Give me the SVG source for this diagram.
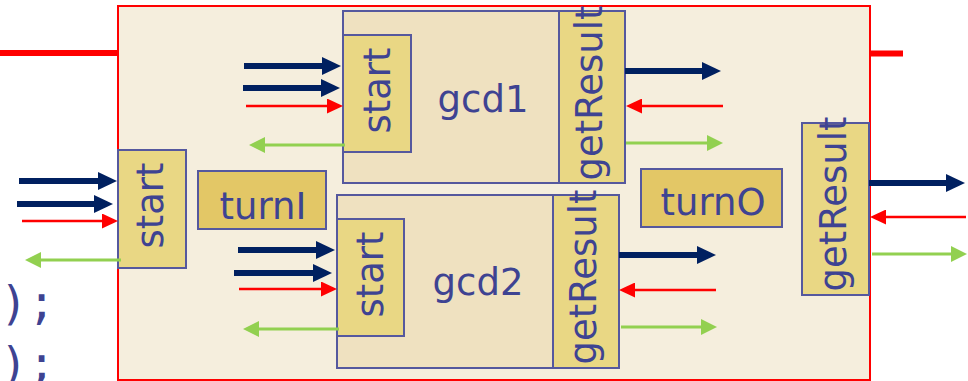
<svg xmlns="http://www.w3.org/2000/svg" width="968" height="381" viewBox="0 0 968 381">
  <style>
    .lbl { font-family: "DejaVu Sans", Verdana, sans-serif; font-size: 37px; fill: #3E4392; }
    .mid { text-anchor: middle; }
    .code { font-family: "DejaVu Sans Mono", monospace; font-size: 46px; fill: #3E4392; }
    .frame { fill: #F5EEDD; stroke: #FF0000; stroke-width: 2; }
    .module { fill: #EFE1C0; stroke: #55589E; stroke-width: 2; }
    .method { fill: #E9D784; stroke: #55589E; stroke-width: 2; }
    .rule { fill: #E3C766; stroke: #55589E; stroke-width: 2; }
    .bus { stroke: #FF0000; stroke-width: 6; fill: none; }
    .nv { stroke: #002060; stroke-width: 6; fill: none; marker-end: url(#hNavy); }
    .rd { stroke: #FF0000; stroke-width: 2.5; fill: none; marker-end: url(#hRed); }
    .gr { stroke: #92D050; stroke-width: 3; fill: none; marker-end: url(#hGreen); }
  </style>
  <defs>
    <marker id="hNavy" markerUnits="userSpaceOnUse" markerWidth="19" markerHeight="18" viewBox="0 0 19 18" refX="0" refY="9" orient="auto">
      <polygon points="0,0 19,9 0,18" fill="#002060"/>
    </marker>
    <marker id="hRed" markerUnits="userSpaceOnUse" markerWidth="16" markerHeight="15" viewBox="0 0 16 15" refX="0" refY="7.5" orient="auto">
      <polygon points="0,0 16,7.5 0,15" fill="#FF0000"/>
    </marker>
    <marker id="hGreen" markerUnits="userSpaceOnUse" markerWidth="16" markerHeight="16" viewBox="0 0 16 16" refX="0" refY="8" orient="auto">
      <polygon points="0,0 16,8 0,16" fill="#92D050"/>
    </marker>
  </defs>

  <!-- trailing code text on the left -->
  <text class="code" x="0" y="319">);</text>
  <text class="code" x="0" y="380">);</text>

  <!-- red bus lines entering / leaving the frame -->
  <line class="bus" x1="0" y1="53" x2="119" y2="53"/>
  <line class="bus" x1="869" y1="53.5" x2="903" y2="53.5"/>

  <!-- enclosing module frame -->
  <g id="frame">
    <rect class="frame" x="118" y="6" width="752" height="374"/>
  </g>

  <g id="start">
    <rect class="method" x="118" y="150" width="68" height="118"/>
    <text class="lbl mid" transform="translate(163,205.5) rotate(-90)">start</text>
  </g>

  <g id="turnI">
    <rect class="rule" x="198" y="171" width="128" height="58"/>
    <text class="lbl mid" x="263" y="219">turnI</text>
  </g>

  <g id="turnO">
    <rect class="rule" x="641" y="169" width="141" height="58"/>
    <text class="lbl mid" x="713" y="215">turnO</text>
  </g>

  <g id="gcd1">
    <rect class="module" x="343" y="11" width="282" height="172"/>
    <text class="lbl mid" x="483" y="112">gcd1</text>
    <g id="gcd1-start">
      <rect class="method" x="343" y="35" width="68" height="117"/>
      <text class="lbl mid" transform="translate(390,90.5) rotate(-90)">start</text>
    </g>
    <g id="gcd1-getResult">
      <rect class="method" x="559" y="11" width="66" height="172"/>
      <text class="lbl mid" transform="translate(602,93) rotate(-90)">getResult</text>
    </g>
  </g>

  <g id="gcd2">
    <rect class="module" x="337" y="195" width="282" height="173"/>
    <text class="lbl mid" x="478" y="295">gcd2</text>
    <g id="gcd2-start">
      <rect class="method" x="337" y="219" width="67" height="117"/>
      <text class="lbl mid" transform="translate(383,274.5) rotate(-90)">start</text>
    </g>
    <g id="gcd2-getResult">
      <rect class="method" x="553" y="195" width="66" height="173"/>
      <text class="lbl mid" transform="translate(596,277) rotate(-90)">getResult</text>
    </g>
  </g>

  <g id="getResult">
    <rect class="method" x="802" y="123" width="67" height="172"/>
    <text class="lbl mid" transform="translate(846,204) rotate(-90)">getResult</text>
  </g>

  <!-- method ports: enable/argument (navy), ready (red), result (green) -->
  <g id="connectors">
    <!-- outer start -->
    <line class="nv" x1="19" y1="181" x2="98" y2="181"/>
    <line class="nv" x1="17" y1="204" x2="94" y2="204"/>
    <line class="rd" x1="22" y1="221" x2="102" y2="221"/>
    <line class="gr" x1="121" y1="260" x2="41" y2="260"/>
    <!-- gcd1 start -->
    <line class="nv" x1="244" y1="66" x2="322" y2="66"/>
    <line class="nv" x1="243" y1="88" x2="321" y2="88"/>
    <line class="rd" x1="246" y1="106" x2="327" y2="106"/>
    <line class="gr" x1="345" y1="145" x2="265" y2="145"/>
    <!-- gcd1 getResult -->
    <line class="nv" x1="625" y1="71" x2="702" y2="71"/>
    <line class="rd" x1="723" y1="106" x2="642" y2="106"/>
    <line class="gr" x1="626" y1="143" x2="707" y2="143"/>
    <!-- gcd2 start -->
    <line class="nv" x1="238" y1="250" x2="316" y2="250"/>
    <line class="nv" x1="234" y1="273" x2="313" y2="273"/>
    <line class="rd" x1="239" y1="289" x2="321" y2="289"/>
    <line class="gr" x1="339" y1="329" x2="259" y2="329"/>
    <!-- gcd2 getResult -->
    <line class="nv" x1="619" y1="255" x2="697" y2="255"/>
    <line class="rd" x1="716" y1="290" x2="635" y2="290"/>
    <line class="gr" x1="621" y1="327" x2="701" y2="327"/>
    <!-- outer getResult -->
    <line class="nv" x1="869" y1="183" x2="946" y2="183"/>
    <line class="rd" x1="966" y1="217" x2="886" y2="217"/>
    <line class="gr" x1="872" y1="254" x2="951" y2="254"/>
  </g>
</svg>
